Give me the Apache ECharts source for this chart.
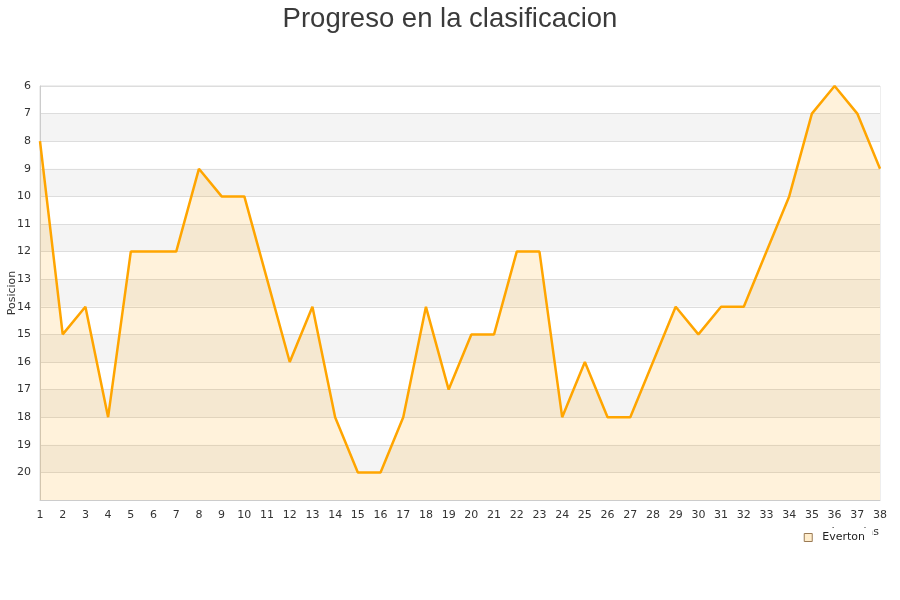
<!DOCTYPE html>
<html>
<head>
<meta charset="utf-8">
<script src="https://cdn.jsdelivr.net/npm/echarts@6/dist/echarts.min.js"></script>
<style>
  html, body { margin: 0; padding: 0; background: #fff; }
  #chart { width: 900px; height: 600px; }
</style>
</head>
<body>
<div id="chart"></div>
<script>
// jornadas 1..38 y posicion del Everton
var jornadas = [];
for (var i = 1; i <= 38; i++) jornadas.push(String(i));
var posiciones = [8, 15, 14, 18, 12, 12, 12, 9, 10, 10, 13, 16, 14, 18, 20, 20, 18, 14, 17, 15,
                  15, 12, 12, 18, 16, 18, 18, 16, 14, 15, 14, 14, 12, 10, 7, 6, 7, 9];
var equipo = 'Everton';

var myChart = echarts.init(document.getElementById('chart'));
var option = {
    title: {
        text: 'Progreso en la clasificacion',
        left: 'center',
        top: 0,
        textStyle: {
            fontFamily: 'Liberation Sans',
            fontSize: 27.5,
            fontWeight: 'normal',
            color: '#3a3a3a'
        }
    },
    legend: {
        data: [equipo],
        right: 28,
        top: 528,
        icon: 'rect',
        itemWidth: 8,
        itemHeight: 8,
        padding: [4, 7, 3, 6],
        backgroundColor: '#fff',
        itemStyle: { color: '#ffedcc', borderColor: '#9a7a55', borderWidth: 1 },
        textStyle: { fontFamily: 'DejaVu Sans', fontSize: 11, color: '#222', padding: [0, 0, 0, 5] }
    },
    grid: {
        left: 40,
        right: 20,
        top: 86,
        bottom: 100,
        outerBoundsMode: 'none',
        containLabel: false,
        show: true,
        borderColor: '#ddd',
        borderWidth: 1
    },
    xAxis: {
        type: 'category',
        data: jornadas,
        boundaryGap: false,
        name: 'Jornadas',
        nameLocation: 'end',
        nameGap: 0,
        nameMoveOverlap: false,
        nameTextStyle: {
            fontFamily: 'DejaVu Sans',
            fontSize: 11,
            color: '#333',
            align: 'right',
            verticalAlign: 'top',
            padding: [27, 1, 0, 0]
        },
        axisLine: { lineStyle: { color: '#ccc' } },
        axisTick: { show: false },
        axisLabel: { fontFamily: 'DejaVu Sans', fontSize: 11, color: '#333', margin: 10 },
        splitLine: { show: false }
    },
    yAxis: {
        type: 'value',
        inverse: true,
        min: 6,
        max: 21,
        interval: 1,
        name: 'Posicion',
        nameLocation: 'middle',
        nameGap: 22,
        nameMoveOverlap: false,
        nameTextStyle: { fontFamily: 'DejaVu Sans', fontSize: 11, color: '#333' },
        axisLine: { show: true, lineStyle: { color: '#ccc' } },
        axisTick: { show: false },
        axisLabel: {
            fontFamily: 'DejaVu Sans',
            fontSize: 11,
            color: '#333',
            margin: 9,
            formatter: function (v) { return v === 21 ? '' : v; }
        },
        splitLine: { show: true, lineStyle: { color: '#ddd' } },
        splitArea: { show: true, areaStyle: { color: ['#ffffff', '#f4f4f4'] } }
    },
    series: [
        {
            name: equipo,
            type: 'line',
            data: posiciones,
            showSymbol: false,
            symbol: 'none',
            lineStyle: { color: '#ffa500', width: 2.5 },
            itemStyle: { color: '#ffa500' },
            areaStyle: { origin: 'end', color: 'rgba(255,165,0,0.2)' }
        }
    ]
};
myChart.setOption(option);
</script>
</body>
</html>
